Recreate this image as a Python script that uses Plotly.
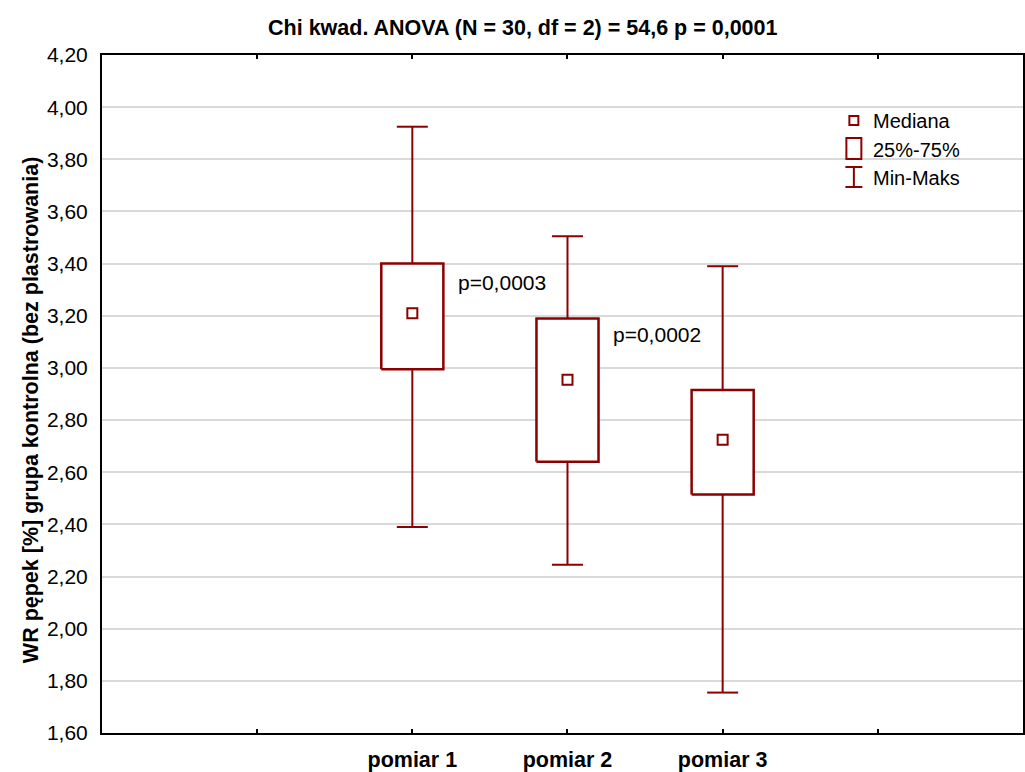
import plotly.graph_objects as go

# ---- data ----
categories = ["pomiar 1", "pomiar 2", "pomiar 3"]
medians = [3.21, 2.955, 2.725]
q1 = [2.995, 2.64, 2.515]
q3 = [3.40, 3.19, 2.915]
mins = [2.39, 2.245, 1.755]
maxs = [3.925, 3.505, 3.39]
p_labels = ["p=0,0003", "p=0,0002"]
p_label_y = [3.326, 3.13]
yticks = [1.6 + 0.2 * i for i in range(14)]
ytick_text = [f"{v:.2f}".replace(".", ",") for v in yticks]

title = "Chi kwad. ANOVA (N = 30, df = 2) = 54,6 p = 0,0001"
ytitle = "WR pępek [%] grupa kontrolna (bez plastrowania)"

RED = "#8B0000"
FONT = "Arial, Liberation Sans, sans-serif"
W, H = 1025, 772
ML, MT, MB, MR = 102, 55, 39, 0
PW, PH = W - ML - MR, H - MT - MB
TICK_PX = 155.5
xpos = [i + 2 for i in range(len(categories))]
BOX_HALF = 0.2
CAP_HALF = 0.1

fig = go.Figure()

for i, x in enumerate(xpos):
    # whiskers
    fig.add_trace(go.Scatter(
        x=[x, x, None, x - CAP_HALF, x + CAP_HALF, None, x, x, None, x - CAP_HALF, x + CAP_HALF],
        y=[q3[i], maxs[i], None, maxs[i], maxs[i], None, q1[i], mins[i], None, mins[i], mins[i]],
        mode="lines", line=dict(color=RED, width=2), hoverinfo="skip", showlegend=False))
    # box
    fig.add_trace(go.Scatter(
        x=[x - BOX_HALF, x + BOX_HALF, x + BOX_HALF, x - BOX_HALF, x - BOX_HALF],
        y=[q1[i], q1[i], q3[i], q3[i], q1[i]],
        mode="lines", fill="toself", fillcolor="white",
        line=dict(color=RED, width=2.5), hoverinfo="skip", showlegend=False))

# medians
fig.add_trace(go.Scatter(
    x=xpos, y=medians, mode="markers",
    marker=dict(symbol="square-open", size=10, color=RED, line=dict(width=2, color=RED)),
    showlegend=False, hoverinfo="skip"))

# p-value annotations
for i, txt in enumerate(p_labels):
    fig.add_annotation(x=xpos[i] + 0.283, y=p_label_y[i], text=txt, showarrow=False,
                       xanchor="left", yanchor="middle",
                       font=dict(family=FONT, size=21, color="black"))


def px(xp):
    return (xp - ML) / PW


def py(yp):
    return (H - MB - yp) / PH


# legend drawn manually
shapes = []
shapes.append(dict(type="rect", xref="paper", yref="paper",
                   x0=px(851), x1=px(860), y0=py(125), y1=py(116),
                   line=dict(color=RED, width=2), fillcolor="white"))
shapes.append(dict(type="rect", xref="paper", yref="paper",
                   x0=px(848), x1=px(863), y0=py(159), y1=py(138),
                   line=dict(color=RED, width=2), fillcolor="white"))
shapes.append(dict(type="line", xref="paper", yref="paper",
                   x0=px(855.5), x1=px(855.5), y0=py(187), y1=py(167),
                   line=dict(color=RED, width=2)))
shapes.append(dict(type="line", xref="paper", yref="paper",
                   x0=px(847), x1=px(864), y0=py(167), y1=py(167),
                   line=dict(color=RED, width=2)))
shapes.append(dict(type="line", xref="paper", yref="paper",
                   x0=px(847), x1=px(864), y0=py(187), y1=py(187),
                   line=dict(color=RED, width=2)))
fig.update_layout(shapes=shapes)

legend_items = [("Mediana", 121), ("25%-75%", 150), ("Min-Maks", 178)]
for txt, yy in legend_items:
    fig.add_annotation(xref="paper", yref="paper", x=px(873), y=py(yy), text=txt,
                       showarrow=False, xanchor="left", yanchor="middle",
                       font=dict(family=FONT, size=20, color="black"))

# y-axis title as annotation
fig.add_annotation(xref="paper", yref="paper", x=px(31), y=py(410), text="<b>" + ytitle + "</b>",
                   textangle=-90, showarrow=False, xanchor="center", yanchor="middle",
                   font=dict(family=FONT, size=21.5, color="black"))

fig.update_layout(
    width=W, height=H,
    margin=dict(l=ML, r=MR, t=MT, b=MB, pad=0),
    paper_bgcolor="white", plot_bgcolor="white",
    title=dict(text="<b>" + title + "</b>", x=0.51, xanchor="center", y=1 - 27 / H, yanchor="middle",
               font=dict(family=FONT, size=21.5, color="black")),
    xaxis=dict(range=[0, PW / TICK_PX], tickvals=[1, 2, 3, 4, 5],
               ticktext=[""] + categories + [""],
               showline=True, linecolor="black", linewidth=2, mirror="ticks",
               ticks="inside", ticklen=4, tickwidth=1.5, tickcolor="black",
               showgrid=False, zeroline=False, ticklabelstandoff=6,
               tickfont=dict(family=FONT, size=21.5, color="black", weight="bold")),
    yaxis=dict(range=[1.6, 4.2], tickvals=yticks, ticktext=ytick_text,
               showline=True, linecolor="black", linewidth=2, mirror=True,
               ticks="", showgrid=True, gridcolor="#d9d9d9", gridwidth=2,
               zeroline=False, ticklabelstandoff=8,
               tickfont=dict(family=FONT, size=21, color="black")),
)

fig.write_html("out.html")
